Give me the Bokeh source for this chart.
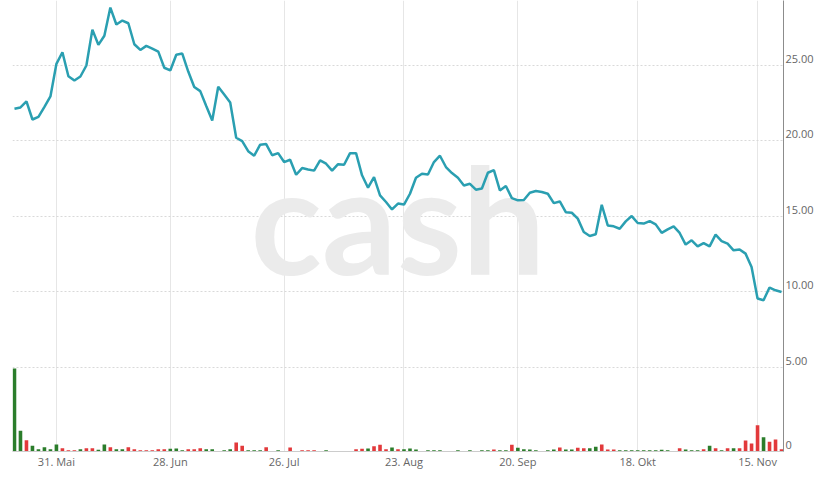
from bokeh.plotting import figure
from bokeh.models import Range1d, FixedTicker, ColumnDataSource, Label
from bokeh.embed import file_html
from bokeh.resources import INLINE

# daily closing prices (ordinal trading-day axis)
price = [
    22.13, 22.22, 22.62, 21.42, 21.60, 22.26, 22.95, 25.11, 25.88, 24.29,
    24.01, 24.27, 25.00, 27.38, 26.37, 26.97, 28.84, 27.72, 27.98, 27.80,
    26.41, 26.03, 26.30, 26.12, 25.92, 24.85, 24.67, 25.71, 25.79, 24.60,
    23.58, 23.30, 22.31, 21.36, 23.59, 23.08, 22.55, 20.21, 19.99, 19.32,
    19.02, 19.75, 19.79, 19.05, 19.19, 18.60, 18.75, 17.76, 18.20, 18.11,
    18.03, 18.71, 18.49, 18.03, 18.46, 18.42, 19.19, 19.19, 17.72, 16.90,
    17.60, 16.39, 15.95, 15.46, 15.85, 15.78, 16.50, 17.56, 17.83, 17.78,
    18.60, 19.02, 18.27, 17.87, 17.56, 17.05, 17.16, 16.77, 16.85, 17.89,
    18.07, 16.72, 17.01, 16.21, 16.06, 16.08, 16.57, 16.68, 16.61, 16.50,
    15.88, 15.99, 15.28, 15.24, 14.85, 13.96, 13.70, 13.81, 15.77, 14.40,
    14.34, 14.18, 14.67, 15.02, 14.56, 14.52, 14.69, 14.47, 13.91, 14.14,
    14.34, 13.90, 13.13, 13.41, 13.01, 13.23, 13.01, 13.79, 13.36, 13.19,
    12.75, 12.81, 12.53, 11.64, 9.55, 9.44, 10.28, 10.10, 9.99,
]

# traded volume (thousand shares)
volume = [
    83.0, 20.7, 11.3, 5.7, 2.3, 4.3, 2.3, 7.0, 3.3, 1.3,
    1.3, 2.3, 3.3, 3.3, 1.7, 7.0, 4.3, 2.3, 2.3, 4.3,
    2.3, 1.3, 1.3, 1.3, 2.3, 2.3, 2.7, 3.0, 1.3, 2.3,
    2.3, 3.3, 2.3, 2.3, 0.0, 1.3, 2.3, 9.0, 5.7, 1.3,
    1.3, 1.3, 4.3, 0.0, 1.3, 0.0, 4.0, 0.0, 1.3, 1.3,
    1.3, 0.0, 1.3, 0.0, 0.0, 0.0, 0.0, 2.3, 2.7, 3.0,
    5.3, 6.7, 2.3, 4.0, 2.3, 2.3, 3.0, 2.0, 0.0, 1.3,
    1.3, 1.3, 0.0, 0.0, 1.3, 0.0, 1.3, 0.0, 1.3, 1.3,
    2.0, 1.3, 1.3, 6.7, 3.7, 2.3, 2.0, 1.3, 0.0, 1.3,
    2.0, 4.0, 2.0, 2.0, 3.7, 3.3, 3.3, 4.7, 7.0, 2.0,
    2.0, 1.3, 1.3, 1.3, 1.3, 1.3, 1.3, 1.3, 1.7, 1.3,
    0.0, 3.3, 2.0, 1.3, 1.3, 2.3, 5.7, 3.3, 1.3, 3.3,
    3.3, 3.3, 11.0, 8.0, 26.3, 14.3, 9.7, 12.0, 2.3,
]

# day direction for volume colouring: g = up day, r = down day
direction = (
    "g g r g g g g g r r "
    "r g r r g g r g g r "
    "r r r r r r g g g r "
    "r r g g g g g r r g "
    "g g r g g g r g r r "
    "r g g g g g g r r g "
    "r r r g r g g g g g "
    "g g g g g g g g g g "
    "r g g r g g g g g g "
    "g r g g r r g g r r "
    "r g g g g g g g g g "
    "g r g g g r g r g r "
    "g r r r r g r r r"
).split()

tick_index = [7, 26, 45, 65, 84, 104, 124]
tick_labels = ["31. Mai", "28. Jun", "26. Jul", "23. Aug", "20. Sep", "18. Okt", "15. Nov"]
price_ticks = [5, 10, 15, 20, 25]

up_color, down_color = "#2b7d2b", "#e2393b"
vol_colors = [up_color if d == "g" else down_color for d in direction]

idx = list(range(len(price)))
src_price = ColumnDataSource(dict(x=idx, y=price))
src_vol = ColumnDataSource(dict(x=idx, v=volume, c=vol_colors))

FRAME_H = 451
PX_PER_UNIT = 15.086          # vertical pixels per price unit
Y_END = 25 + 65 / PX_PER_UNIT
Y0 = Y_END - FRAME_H / PX_PER_UNIT
LBL = 6.5 / PX_PER_UNIT       # labels sit slightly above their grid line

p = figure(frame_width=771, frame_height=FRAME_H, output_backend="svg", toolbar_location=None,
           x_range=Range1d(-0.33, len(price) - 1 + 0.33),
           y_range=Range1d(Y0, Y_END),
           y_axis_location="right",
           min_border_left=12, min_border_right=0, min_border_top=0, min_border_bottom=0)
p.extra_y_ranges = {"vol": Range1d(0, FRAME_H)}
p.outline_line_color = None
p.background_fill_color = "white"
p.border_fill_color = "white"

wm = Label(x=(len(price) - 1) / 2, y=14.86, text="cash", text_font="Lato",
           text_font_style="bold", text_font_size="148px", text_color="#ebebeb",
           text_align="center", text_baseline="middle", level="underlay")
p.add_layout(wm)

p.vbar(x="x", top="v", bottom=0, width=0.6, source=src_vol, y_range_name="vol",
       fill_color="c", line_color=None)
p.line("x", "y", source=src_price, line_color="#2a9fb1", line_width=2.5)

# grids
p.ygrid.ticker = FixedTicker(ticks=price_ticks)
p.ygrid.grid_line_color = "#d9d9d9"
p.ygrid.grid_line_dash = "2 2"
p.xgrid.ticker = FixedTicker(ticks=tick_index)
p.xgrid.grid_line_color = "#e6e6e6"

# x axis
xa = p.xaxis[0]
xa.ticker = FixedTicker(ticks=tick_index)
xa.major_label_overrides = dict(zip(tick_index, tick_labels))
xa.axis_line_color = "#cccccc"
xa.major_tick_line_color = None
xa.minor_tick_line_color = None
xa.major_tick_out = 0
xa.major_tick_in = 0
xa.major_label_standoff = 2
xa.major_label_text_font = "Open Sans"
xa.major_label_text_font_size = "11px"
xa.major_label_text_color = "#666666"

# y axis (right): price labels plus the volume-pane "0"
label_pos = [Y0 + LBL] + [t + LBL for t in price_ticks]
label_txt = ["0"] + [f"{t:.2f}" for t in price_ticks]
ya = p.yaxis[0]
ya.ticker = FixedTicker(ticks=label_pos)
ya.major_label_overrides = dict(zip(label_pos, label_txt))
ya.axis_line_color = "#8c8c8c"
ya.major_tick_line_color = None
ya.minor_tick_line_color = None
ya.major_tick_out = 0
ya.major_tick_in = 0
ya.major_label_standoff = 2
ya.major_label_text_font = "Open Sans"
ya.major_label_text_font_size = "11px"
ya.major_label_text_color = "#666666"

open("out.html", "w").write(file_html(p, INLINE))
